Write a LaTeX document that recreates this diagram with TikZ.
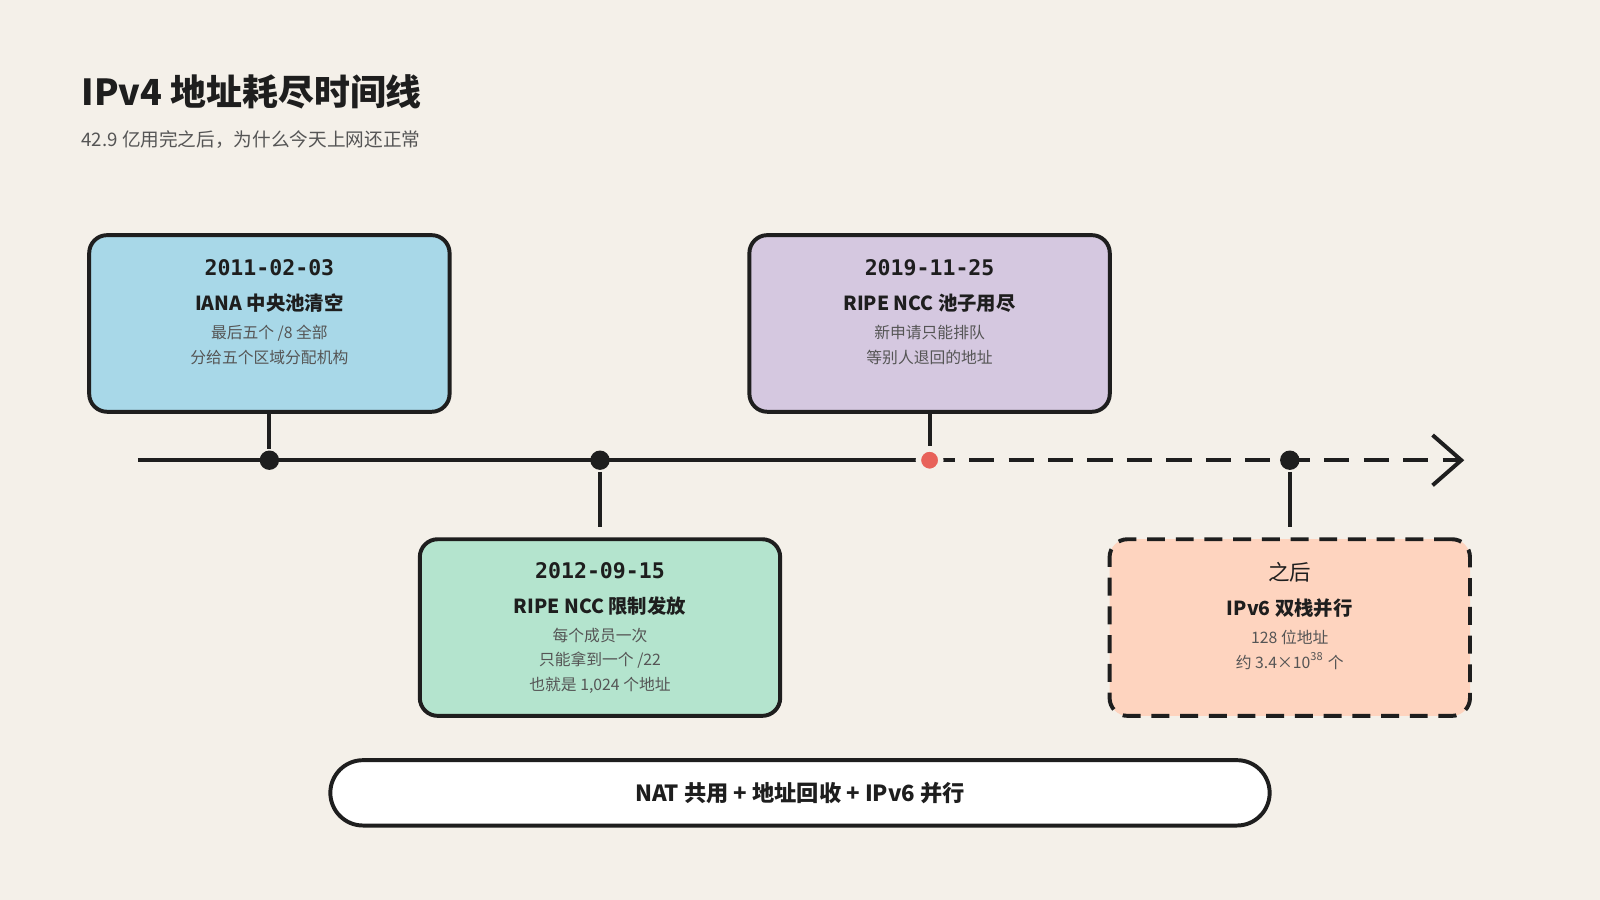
\documentclass[tikz,border=0pt]{standalone}
\usepackage{fontspec}
\setmainfont{Noto Sans CJK SC}
\setmonofont{DejaVu Sans Mono}
\usetikzlibrary{arrows.meta}
\definecolor{bg}{HTML}{F4F0E9}
\definecolor{ink}{HTML}{1E1E1E}
\definecolor{soft}{HTML}{555555}
\definecolor{cblue}{HTML}{A8D8E8}
\definecolor{cgreen}{HTML}{B4E4CE}
\definecolor{cpurple}{HTML}{D5C8E0}
\definecolor{corange}{HTML}{FED4BF}
\definecolor{cred}{HTML}{E8625A}
\newcommand\tldate{\fontsize{6}{6.8}\ttfamily\bfseries}
\newcommand\tlhead{\fontsize{5.4}{6.8}\selectfont\bfseries}
\newcommand\tlbody{\fontsize{4.4}{6.8}\selectfont\color{soft}}
\begin{document}
\begin{tikzpicture}[
    x=0.01cm, y=-0.01cm,
    line width=1.1pt,
    card/.style = {
      draw = ink,
      rounded corners = 5pt,
      minimum width = 3.53cm,
      minimum height = 1.73cm,
      align = center,
      text = ink,
      font = \fontsize{4.4}{6.8}\selectfont
    },
    dot/.style = {
      circle,
      fill = ink,
      inner sep = 0pt,
      minimum size = 0.19cm
    }
  ]
  \fill[bg] (0,0) rectangle (1568,882);
  \useasboundingbox (0,0) rectangle (1568,882);

  \node[anchor=west, font=\fontsize{10}{12}\selectfont\bfseries, text=ink, inner sep=0pt] (title) at (78,90) {IPv4 地址耗尽时间线};
  \node[anchor=west, font=\fontsize{5.2}{7}\selectfont, text=soft, inner sep=0pt] (sub) at (78,137) {42.9 亿用完之后，为什么今天上网还正常};

  % timeline
  \coordinate (start) at (135,451);
  \coordinate (now) at (911,451);
  \coordinate (end) at (1435,451);
  \draw[ink] (start) -- (now);
  \draw[ink, dash pattern=on 7pt off 4pt, -{Straight Barb[length=8pt,width=14pt]}] (now) -- (end);

  \node[dot] (d1) at (264,451) {};
  \node[dot] (d2) at (588,451) {};
  \node[dot, fill=cred, draw=bg, line width=1.5pt, minimum size=0.22cm] (d3) at (911,451) {};
  \node[dot] (d4) at (1264,451) {};

  % cards
  \node[card, fill=cblue] (c1) at (264,317) {{\tldate 2011-02-03}\\[3pt]{\tlhead IANA 中央池清空}\\[1pt]
    {\tlbody 最后五个 /8 全部}\\{\tlbody 分给五个区域分配机构}\\\mbox{}};
  \node[card, fill=cpurple] (c3) at (911,317) {{\tldate 2019-11-25}\\[3pt]{\tlhead RIPE NCC 池子用尽}\\[1pt]
    {\tlbody 新申请只能排队}\\{\tlbody 等别人退回的地址}\\\mbox{}};
  \node[card, fill=cgreen] (c2) at (588,615) {{\tldate 2012-09-15}\\[3pt]{\tlhead RIPE NCC 限制发放}\\[1pt]
    {\tlbody 每个成员一次}\\{\tlbody 只能拿到一个 /22}\\{\tlbody 也就是 1,024 个地址}};
  \node[card, fill=corange, dash pattern=on 5pt off 3pt] (c4) at (1264,615) {{\fontsize{6}{6.8}\selectfont 之后}\\[3pt]{\tlhead IPv6 双栈并行}\\[1pt]
    {\tlbody 128 位地址}\\{\tlbody 约 3.4×10\textsuperscript{38} 个}\\\mbox{}};

  \draw[ink] (c1) -- (d1);
  \draw[ink] (c3) -- (d3);
  \draw[ink] (d2) -- ([yshift=0.1cm]c2.north);
  \draw[ink] (d4) -- ([yshift=0.1cm]c4.north);

  \node[draw=ink, fill=white, rounded corners=0.32cm, minimum width=9.2cm, minimum height=0.64cm,
        font=\fontsize{6.2}{8}\selectfont\bfseries, text=ink] (bar) at (784,777) {NAT 共用 + 地址回收 + IPv6 并行};
\end{tikzpicture}
\end{document}
